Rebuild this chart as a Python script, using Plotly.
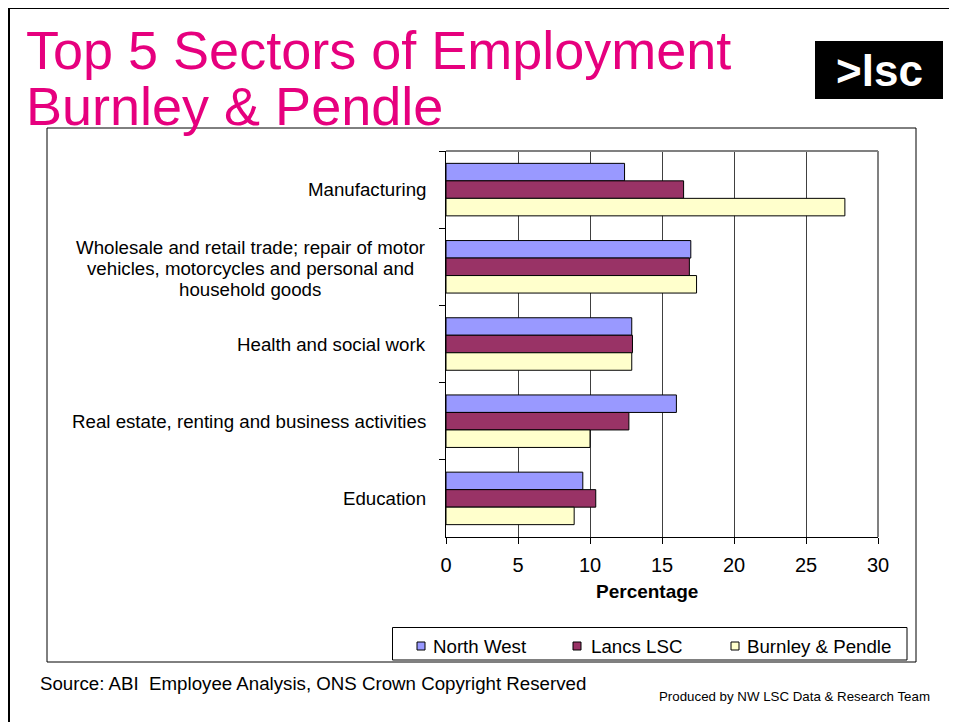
import plotly.graph_objects as go

# ---------------- data ----------------
categories = [
    "Manufacturing",
    "Wholesale and retail trade; repair of motor<br>vehicles, motorcycles and personal and<br>household goods",
    "Health and social work",
    "Real estate, renting and business activities",
    "Education",
]
series_names = ["North West", "Lancs LSC", "Burnley & Pendle"]
north_west = [12.4, 17.0, 12.9, 16.0, 9.5]
lancs_lsc = [16.5, 16.9, 12.95, 12.7, 10.4]
burnley_pendle = [27.7, 17.4, 12.9, 10.0, 8.9]
x_tick_values = [0, 5, 10, 15, 20, 25, 30]
series_colors = ["#9999FF", "#993366", "#FFFFCC"]

title_line1 = "Top 5 Sectors of Employment"
title_line2 = "Burnley & Pendle"
x_title = "Percentage"
source_text = "Source: ABI  Employee Analysis, ONS Crown Copyright Reserved"
credit_text = "Produced by NW LSC Data & Research Team"
logo_text = ">lsc"

# ---------------- layout geometry ----------------
OFF = 8  # page body margin
W, H = 957 - OFF, 722 - OFF
# plot area in screen pixels: x 446..878, y 151..537
PL, PR, PT, PB = 446, 878, 151, 537
ML = PL - OFF
MR = (OFF + W) - PR
MT = PT - OFF
MB = (OFF + H) - PB
PW = PR - PL
PH = PB - PT
FONT = "Liberation Sans, Arial, sans-serif"
FS = 18.7
LINE_GAP = 21


def px(x):
    return (x - PL) / PW


def py(y):
    return (PB - y) / PH


fig = go.Figure()
for name, vals, col in zip(series_names, [north_west, lancs_lsc, burnley_pendle], series_colors):
    fig.add_trace(go.Bar(
        name=name, y=categories, x=vals, orientation="h",
        marker=dict(color=col, line=dict(color="black", width=1)),
        showlegend=False,
    ))

shapes = []
annotations = []

# slide border (left + top)
shapes.append(dict(type="line", xref="paper", yref="paper", x0=px(9), x1=px(9), y0=py(7), y1=py(730),
                   line=dict(color="black", width=2)))
shapes.append(dict(type="line", xref="paper", yref="paper", x0=px(8), x1=px(965), y0=py(8), y1=py(8),
                   line=dict(color="black", width=2)))
# chart box
shapes.append(dict(type="rect", xref="paper", yref="paper", x0=px(47), x1=px(916), y0=py(662), y1=py(128),
                   line=dict(color="black", width=1)))
# plot area border top/right (gray)
shapes.append(dict(type="line", xref="paper", yref="paper", x0=0, x1=1, y0=1, y1=1,
                   line=dict(color="#808080", width=2)))
shapes.append(dict(type="line", xref="paper", yref="paper", x0=1, x1=1, y0=0, y1=1,
                   line=dict(color="#808080", width=2)))
# legend box
shapes.append(dict(type="rect", xref="paper", yref="paper", x0=px(392.5), x1=px(907), y0=py(660), y1=py(627.5),
                   line=dict(color="black", width=1)))
# logo
shapes.append(dict(type="rect", xref="paper", yref="paper", x0=px(815), x1=px(943), y0=py(99), y1=py(41),
                   fillcolor="black", line=dict(color="black", width=0)))

# legend entries
legend_sq_left = [417, 573, 731]
legend_text_left = [431, 589, 745]
for name, col, sx, tx in zip(series_names, series_colors, legend_sq_left, legend_text_left):
    shapes.append(dict(type="rect", xref="paper", yref="paper", x0=px(sx), x1=px(sx + 8), y0=py(650), y1=py(642),
                       fillcolor=col, line=dict(color="black", width=1)))
    annotations.append(dict(text=name, xref="paper", yref="paper", x=px(tx), y=py(646), xanchor="left",
                            yanchor="middle", showarrow=False, font=dict(family=FONT, size=FS, color="black")))

# category labels (multi-line labels are centred line by line, 21 px apart)
for c in categories:
    lines = c.split("<br>")
    if len(lines) == 1:
        annotations.append(dict(text=c, xref="paper", yref="y", x=px(428), y=c, xanchor="right",
                                yanchor="middle", showarrow=False,
                                font=dict(family=FONT, size=FS, color="black")))
    else:
        n = len(lines)
        for i, ln in enumerate(lines):
            annotations.append(dict(text=ln, xref="paper", yref="y", x=px(250), y=c, xanchor="center",
                                    yanchor="middle", showarrow=False,
                                    yshift=((n - 1) / 2 - i) * LINE_GAP - 2,
                                    font=dict(family=FONT, size=FS, color="black")))

# titles
annotations.append(dict(text=title_line1, xref="paper", yref="paper", x=px(24), y=py(50), xanchor="left",
                        yanchor="middle", showarrow=False, font=dict(family=FONT, size=54, color="#E6007E")))
annotations.append(dict(text=title_line2, xref="paper", yref="paper", x=px(24), y=py(106), xanchor="left",
                        yanchor="middle", showarrow=False, font=dict(family=FONT, size=54, color="#E6007E")))
# logo text
annotations.append(dict(text="<b>" + logo_text + "</b>", xref="paper", yref="paper", x=px(879), y=py(71),
                        xanchor="center", yanchor="middle", showarrow=False,
                        font=dict(family=FONT, size=44, color="white")))
# x title
annotations.append(dict(text="<b>" + x_title + "</b>", xref="paper", yref="paper", x=px(647), y=py(591),
                        xanchor="center", yanchor="middle", showarrow=False,
                        font=dict(family=FONT, size=19, color="black")))
# source and credit
annotations.append(dict(text=source_text, xref="paper", yref="paper", x=px(38), y=py(683),
                        xanchor="left", yanchor="middle", showarrow=False,
                        font=dict(family=FONT, size=FS, color="black")))
annotations.append(dict(text=credit_text, xref="paper", yref="paper", x=px(932), y=py(696),
                        xanchor="right", yanchor="middle", showarrow=False,
                        font=dict(family=FONT, size=13.3, color="black")))

fig.update_layout(
    width=W, height=H,
    margin=dict(l=ML, r=MR, t=MT, b=MB, pad=0),
    paper_bgcolor="white", plot_bgcolor="white",
    barmode="group", bargap=0.32, bargroupgap=0,
    showlegend=False,
    font=dict(family=FONT, color="black"),
    shapes=shapes, annotations=annotations,
    xaxis=dict(range=[0, 30], tickvals=x_tick_values, ticktext=[str(v) for v in x_tick_values],
               showgrid=True, gridcolor="#404040", gridwidth=1, zeroline=False,
               showline=True, linecolor="black", linewidth=1,
               ticks="outside", ticklen=6, tickcolor="black", tickwidth=1,
               ticklabelstandoff=4,
               tickfont=dict(family=FONT, size=20, color="black")),
    yaxis=dict(type="category", categoryorder="array", categoryarray=categories,
               range=[4.5, -0.5], showgrid=False, zeroline=False,
               showline=True, linecolor="black", linewidth=1,
               ticks="outside", tickson="boundaries", ticklen=6, tickcolor="black", tickwidth=1,
               showticklabels=False),
)

fig.write_html("out.html")
